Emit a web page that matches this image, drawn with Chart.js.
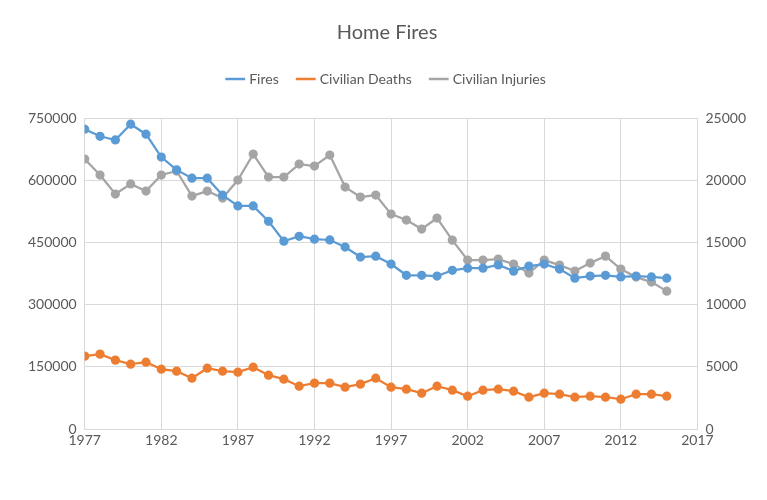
<!DOCTYPE html>
<html>
<head>
<meta charset="utf-8">
<script src="https://cdn.jsdelivr.net/npm/chart.js@4"></script>
<style>
body { margin: 0; background: #fff; }
#wrap { width: 767px; height: 500px; }
</style>
</head>
<body>
<div id="wrap"><canvas id="chart"></canvas></div>
<script>
// years 1977..2015
const years = [1977,1978,1979,1980,1981,1982,1983,1984,1985,1986,1987,1988,1989,1990,1991,1992,1993,1994,1995,1996,1997,1998,1999,2000,2001,2002,2003,2004,2005,2006,2007,2008,2009,2010,2011,2012,2013,2014,2015];

// left axis
const fires = [723000,706000,697000,735000,711000,656000,625000,605000,605000,564000,538000,538000,501000,453000,465000,458000,456000,439000,415000,417000,398000,371000,371000,369000,383000,388000,388000,396000,381000,393000,398000,386000,364000,369000,371000,367000,369000,367000,364000];

// right axis
const deaths = [5870,6030,5550,5225,5385,4820,4660,4100,4900,4660,4580,4985,4340,4020,3455,3700,3700,3375,3620,4100,3375,3215,2895,3455,3135,2650,3135,3215,3055,2570,2895,2810,2570,2650,2570,2410,2810,2810,2650];
const injuries = [21700,20420,18890,19700,19130,20420,20740,18730,19130,18570,20015,22100,20260,20260,21300,21140,22025,19450,18650,18810,17280,16800,16080,16960,15190,13585,13585,13665,13265,12540,13585,13180,12700,13345,13905,12860,12220,11820,11090];

const toPoints = vals => vals.map((v, i) => ({ x: years[i], y: v }));

const makeSet = (label, vals, color, axis) => ({
    label: label,
    data: toPoints(vals),
    borderColor: color,
    backgroundColor: color,
    borderWidth: 2.25,
    pointRadius: 3.5,
    pointHoverRadius: 3.5,
    yAxisID: axis,
    tension: 0
});

const gridColor = '#d9d9d9';
const tickColor = '#595959';
Chart.defaults.font.family = 'Lato, "Open Sans", sans-serif';

// extra space under the legend
const legendGap = {
    id: 'legendGap',
    beforeInit(chart) {
        const fit = chart.legend.fit;
        chart.legend.fit = function () {
            fit.bind(chart.legend)();
            this.height += 22;
        };
    }
};

new Chart(document.getElementById('chart'), {
    type: 'line',
    plugins: [legendGap],
    data: {
        datasets: [
            makeSet('Fires', fires, '#5b9bd5', 'y'),
            makeSet('Civilian Deaths', deaths, '#ed7d31', 'y2'),
            makeSet('Civilian Injuries', injuries, '#a5a5a5', 'y2')
        ]
    },
    options: {
        responsive: true,
        maintainAspectRatio: false,
        animation: false,
        layout: { padding: { left: 20, right: 13, top: 11, bottom: 48 } },
        plugins: {
            title: {
                display: true,
                text: 'Home Fires',
                color: tickColor,
                font: { size: 20, weight: 'normal' },
                padding: { top: 10, bottom: 7 }
            },
            legend: {
                labels: {
                    usePointStyle: true,
                    pointStyle: 'line',
                    color: tickColor,
                    font: { size: 14 },
                    boxWidth: 40,
                    padding: 20,
                    generateLabels: chart => chart.data.datasets.map((ds, i) => ({
                        text: ds.label,
                        fillStyle: ds.borderColor,
                        strokeStyle: ds.borderColor,
                        fontColor: tickColor,
                        lineWidth: 2.5,
                        pointStyle: 'line',
                        datasetIndex: i
                    }))
                }
            },
            tooltip: { enabled: false }
        },
        scales: {
            x: {
                type: 'linear',
                min: 1977,
                max: 2017,
                ticks: { stepSize: 5, color: tickColor, font: { size: 14 }, callback: v => String(v) },
                grid: { color: gridColor, drawTicks: false },
                border: { color: gridColor }
            },
            y: {
                position: 'left',
                min: 0,
                max: 750000,
                ticks: { stepSize: 150000, color: tickColor, font: { size: 14 }, padding: 8, callback: v => String(v) },
                grid: { color: gridColor, drawTicks: false },
                border: { display: false }
            },
            y2: {
                position: 'right',
                min: 0,
                max: 25000,
                ticks: { stepSize: 5000, color: tickColor, font: { size: 14 }, padding: 8, callback: v => String(v) },
                grid: { display: false, drawTicks: false },
                border: { color: gridColor }
            }
        }
    }
});
</script>
</body>
</html>
